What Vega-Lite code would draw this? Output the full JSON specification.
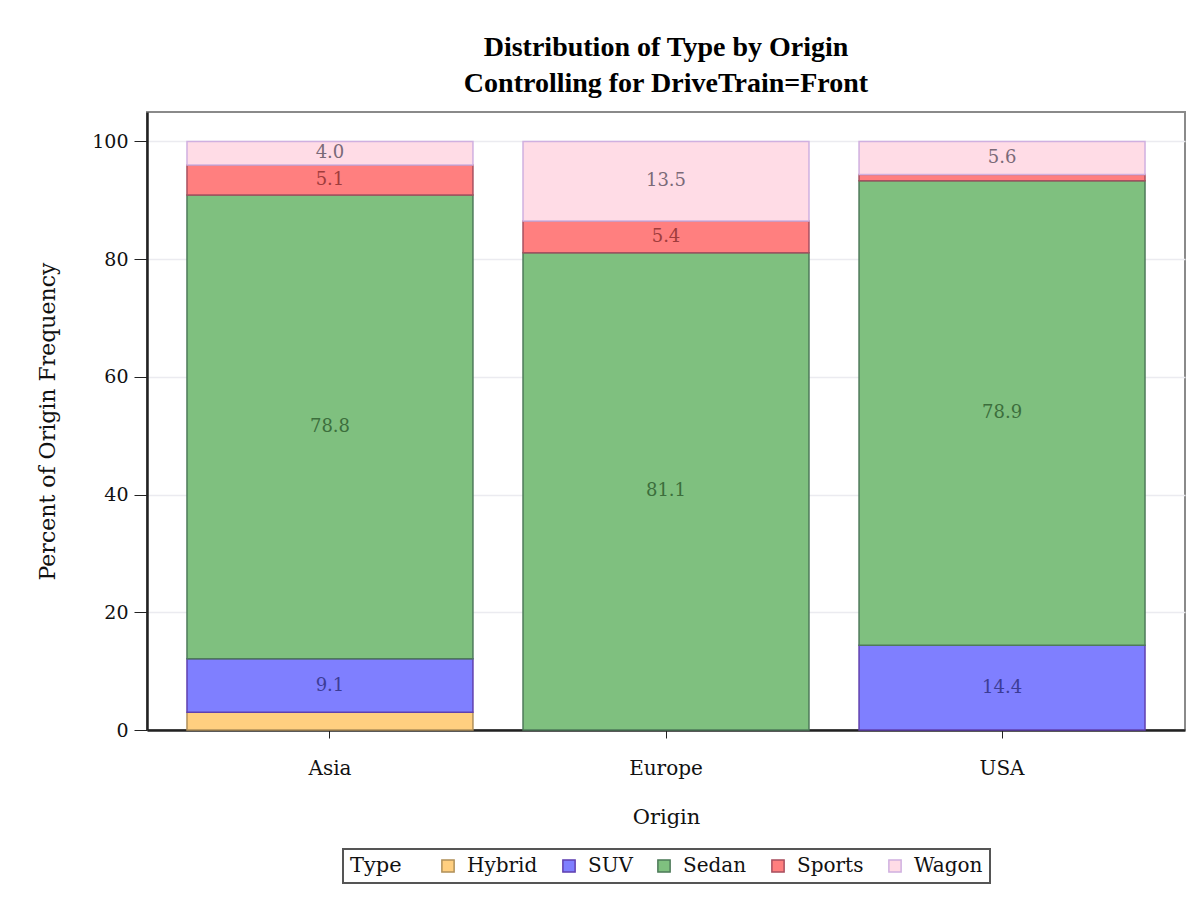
{
  "$schema": "https://vega.github.io/schema/vega-lite/v6.json",
  "width": 1038,
  "height": 618,
  "autosize": {"type": "none"},
  "padding": {"left": 147, "top": 112, "right": 11, "bottom": 173},
  "background": "white",
  "title": {
    "text": ["Distribution of Type by Origin", "Controlling for DriveTrain=Front"],
    "font": "Liberation Serif",
    "fontSize": 28,
    "fontWeight": "bold",
    "color": "#000000",
    "lineHeight": 36,
    "anchor": "middle",
    "offset": 14
  },
  "data": {
    "values": [
      {"Origin": "Asia", "Type": "Hybrid", "pct": 3.0},
      {"Origin": "Asia", "Type": "SUV", "pct": 9.1},
      {"Origin": "Asia", "Type": "Sedan", "pct": 78.8},
      {"Origin": "Asia", "Type": "Sports", "pct": 5.1},
      {"Origin": "Asia", "Type": "Wagon", "pct": 4.0},
      {"Origin": "Europe", "Type": "Sedan", "pct": 81.1},
      {"Origin": "Europe", "Type": "Sports", "pct": 5.4},
      {"Origin": "Europe", "Type": "Wagon", "pct": 13.5},
      {"Origin": "USA", "Type": "SUV", "pct": 14.4},
      {"Origin": "USA", "Type": "Sedan", "pct": 78.9},
      {"Origin": "USA", "Type": "Sports", "pct": 1.1},
      {"Origin": "USA", "Type": "Wagon", "pct": 5.6}
    ]
  },
  "encoding": {
    "x": {
      "field": "Origin",
      "type": "nominal",
      "scale": {"paddingInner": 0.149, "paddingOuter": 0.119},
      "axis": {
        "title": "Origin",
        "labelAngle": 0,
        "tickSize": 8,
        "labelPadding": 20,
        "titlePadding": 28,
        "labelFontSize": 20,
        "titleFontSize": 21,
        "domainWidth": 2.5,
        "domainColor": "#222222",
        "tickColor": "#222222",
        "grid": false
      }
    },
    "y": {
      "field": "pct",
      "type": "quantitative",
      "stack": "zero",
      "scale": {"domain": [0, 105], "nice": false},
      "axis": {
        "title": "Percent of Origin Frequency",
        "values": [0, 20, 40, 60, 80, 100],
        "tickSize": 13,
        "labelPadding": 6,
        "titlePadding": 32,
        "labelFontSize": 19,
        "titleFontSize": 22,
        "domainWidth": 2.5,
        "domainColor": "#222222",
        "tickColor": "#222222",
        "grid": true,
        "gridColor": "#ebebf0",
        "gridWidth": 1.5
      }
    }
  },
  "layer": [
    {
      "mark": {"type": "bar", "strokeWidth": 1.5},
      "encoding": {
        "fill": {
          "field": "Type",
          "type": "nominal",
          "scale": {
            "domain": ["Hybrid", "SUV", "Sedan", "Sports", "Wagon"],
            "range": ["#FFCF80", "#7F7FFF", "#7FC07F", "#FF7F7F", "#FFDCE6"]
          },
          "legend": {"title": "Type"}
        },
        "stroke": {
          "field": "Type",
          "type": "nominal",
          "scale": {
            "domain": ["Hybrid", "SUV", "Sedan", "Sports", "Wagon"],
            "range": ["#B0905A", "#6040B0", "#4E7A5A", "#A85060", "#D0B0E0"]
          },
          "legend": {"title": "Type"}
        },
        "order": {"field": "Type"}
      }
    },
    {
      "mark": {"type": "text", "font": "DejaVu Serif", "fontSize": 18, "baseline": "middle"},
      "encoding": {
        "y": {"field": "pct", "type": "quantitative", "stack": "zero", "bandPosition": 0.5},
        "detail": {"field": "Type"},
        "order": {"field": "Type"},
        "text": {"field": "pct", "type": "quantitative", "format": ".1f"},
        "color": {
          "field": "Type",
          "type": "nominal",
          "scale": {
            "domain": ["Hybrid", "SUV", "Sedan", "Sports", "Wagon"],
            "range": ["#8A6A30", "#3C3C96", "#3C6E3C", "#A03C3C", "#7A6A78"]
          },
          "legend": null
        },
        "opacity": {"condition": {"test": "datum.pct < 3.5", "value": 0}, "value": 1}
      }
    }
  ],
  "config": {
    "font": "DejaVu Serif",
    "view": {"stroke": "#8a8a8a", "strokeWidth": 2},
    "axis": {
      "labelFont": "DejaVu Serif",
      "titleFont": "DejaVu Serif",
      "labelColor": "#111111",
      "titleColor": "#111111",
      "titleFontWeight": "normal"
    },
    "legend": {
      "orient": "none",
      "legendX": 196,
      "legendY": 737,
      "direction": "horizontal",
      "titleOrient": "left",
      "titleFont": "DejaVu Serif",
      "titleFontSize": 21,
      "titleFontWeight": "normal",
      "titleColor": "#111111",
      "titlePadding": 36,
      "labelFont": "DejaVu Serif",
      "labelFontSize": 20,
      "labelColor": "#111111",
      "symbolType": "square",
      "symbolSize": 150,
      "symbolStrokeWidth": 1.5,
      "columnPadding": 21,
      "labelOffset": 9,
      "padding": 7,
      "strokeColor": "#555555",
      "strokeWidth": 2
    }
  }
}
